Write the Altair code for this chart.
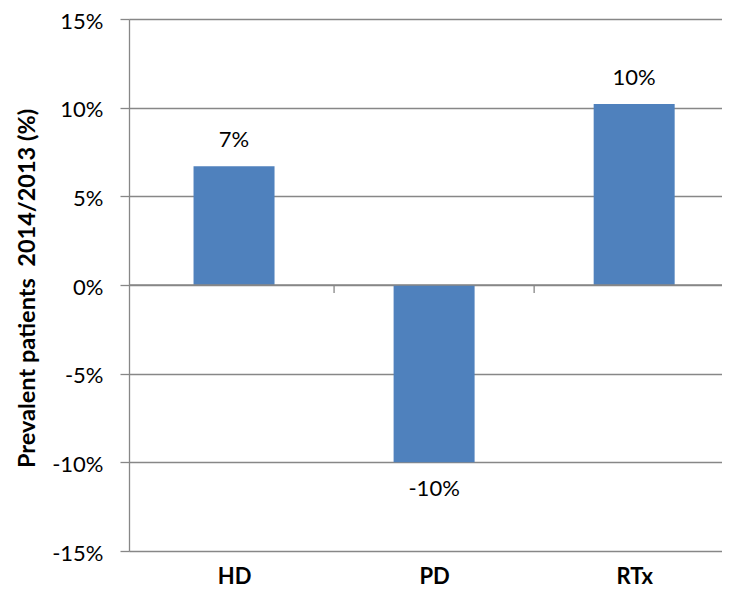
import altair as alt
import pandas as pd

categories = ["HD", "PD", "RTx"]
values = [6.7, -10.0, 10.2]
value_labels = ["7%", "-10%", "10%"]
boundaries = [1, 2]
y_ticks = [-15, -10, -5, 0, 5, 10, 15]

GRAY = "#878787"
FONT = "Lato"
W, H = 593, 532
XMAX = W / 203.5

df = pd.DataFrame({
    "cat": categories,
    "pos": [i + 0.5 for i in range(len(categories))],
    "value": values,
    "label": value_labels,
})
df_b = pd.DataFrame({"b": boundaries})
df_z = pd.DataFrame({"z": [0]})

cat_js = "[" + ",".join("'" + c + "'" for c in categories) + "]"

xscale = alt.Scale(domain=[0, XMAX], nice=False, zero=False)
yscale = alt.Scale(domain=[-15, 15], nice=False)

bars = alt.Chart(df).mark_bar(size=81, color="#4F81BD").encode(
    x=alt.X("pos:Q", scale=xscale,
            axis=alt.Axis(values=[0.5, 1.5, 2.5],
                          labelExpr=cat_js + "[floor(datum.value)]",
                          title=None, ticks=False, tickSize=0, domain=False, grid=False,
                          labelFontSize=22, labelFontWeight="bold", labelColor="#000000",
                          labelPadding=15, labelFont=FONT)),
    y=alt.Y("value:Q", scale=yscale,
            axis=alt.Axis(values=y_ticks, labelExpr="datum.value + '%'",
                          grid=True, gridColor=GRAY, gridWidth=1.3,
                          domainColor=GRAY, domainWidth=1.3,
                          tickColor=GRAY, tickSize=9, tickWidth=1.3,
                          labelFontSize=22, labelColor="#000000", labelPadding=17,
                          labelOffset=2, labelFont=FONT,
                          title="Prevalent patients\u00a0 2014/2013 (%)",
                          titleFont=FONT, titleFontSize=23.5, titleFontWeight="bold",
                          titleColor="#000000",
                          titleX=-102, titleY=H / 2 + 3, titleAngle=270,
                          titleAlign="center", titleBaseline="middle")),
)

zero_line = alt.Chart(df_z).mark_rule(color=GRAY, strokeWidth=1.3).encode(
    y=alt.Y("z:Q", scale=yscale)
)

bticks = alt.Chart(df_b).mark_rule(color=GRAY, strokeWidth=1.3).encode(
    x=alt.X("b:Q", scale=xscale),
    y=alt.datum(0),
    y2=alt.datum(-0.45),
)

pos_text = alt.Chart(df).transform_filter("datum.value >= 0").mark_text(
    font=FONT, fontSize=22, color="#000000", baseline="alphabetic", dy=-19
).encode(x=alt.X("pos:Q", scale=xscale), y=alt.Y("value:Q", scale=yscale), text="label:N")

neg_text = alt.Chart(df).transform_filter("datum.value < 0").mark_text(
    font=FONT, fontSize=22, color="#000000", baseline="alphabetic", dy=34
).encode(x=alt.X("pos:Q", scale=xscale), y=alt.Y("value:Q", scale=yscale), text="label:N")

chart = alt.layer(bars, zero_line, bticks, pos_text, neg_text).properties(
    width=W, height=H,
    autosize=alt.AutoSizeParams(type="none"),
    padding={"left": 121, "top": 11, "right": 0, "bottom": 40},
).configure_view(stroke=None).configure(font=FONT, background="white")

chart.save("out.html", embed_options={"renderer": "svg", "actions": False})
